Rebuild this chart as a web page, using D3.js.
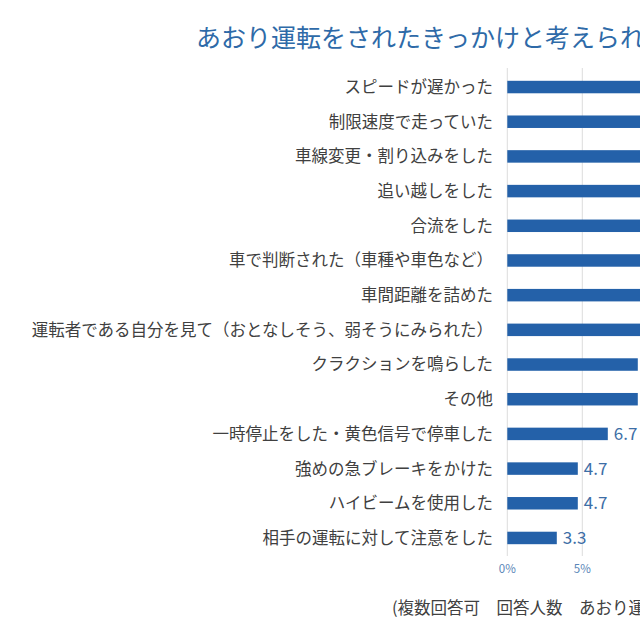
<!DOCTYPE html>
<html><head><meta charset="utf-8">
<script src="https://cdn.jsdelivr.net/npm/d3@7"></script>
<style>
html,body{margin:0;padding:0;background:#fff;overflow:hidden;}
svg{display:block;font-family:"Noto Sans CJK JP","Noto Sans",sans-serif;}
</style></head>
<body>
<svg id="chart" width="640" height="640"></svg>
<script>
const titleText = "あおり運転をされたきっかけと考えられること";
const footnote = "(複数回答可　回答人数　あおり運転をされたことがある人)";
const categories = [
  "スピードが遅かった",
  "制限速度で走っていた",
  "車線変更・割り込みをした",
  "追い越しをした",
  "合流をした",
  "車で判断された（車種や車色など）",
  "車間距離を詰めた",
  "運転者である自分を見て（おとなしそう、弱そうにみられた）",
  "クラクションを鳴らした",
  "その他",
  "一時停止をした・黄色信号で停車した",
  "強めの急ブレーキをかけた",
  "ハイビームを使用した",
  "相手の運転に対して注意をした"
];
const values = [40.7, 30.0, 26.0, 20.7, 14.0, 12.7, 11.3, 10.7, 8.7, 8.7, 6.7, 4.7, 4.7, 3.3];
const tickValues = [0, 5, 10, 15, 20, 25, 30, 35, 40, 45];

const svg = d3.select("#chart");
const W = 640;
const x = d3.scaleLinear().domain([0, 45]).range([507.3, 507.3 + 45 * 15]);
const y = d3.scaleBand().domain(categories).range([69.7, 555.3]).paddingInner(0.64).paddingOuter(0.32);

// gridlines
svg.append("g").selectAll("line").data(tickValues.filter(d => x(d) < W)).join("line")
  .attr("x1", d => x(d)).attr("x2", d => x(d))
  .attr("y1", 68).attr("y2", 556)
  .attr("stroke", "#dcdcdc").attr("stroke-width", 1);

// x axis tick labels (only those inside the visible frame)
svg.append("g").selectAll("text").data(tickValues.filter(d => x(d) + 12 < W)).join("text")
  .attr("x", d => x(d)).attr("y", 573)
  .attr("text-anchor", "middle")
  .attr("font-size", 11.5).attr("fill", "#5a86b8")
  .text(d => d + "%");

// bars
svg.append("g").selectAll("rect").data(values).join("rect")
  .attr("x", x(0))
  .attr("y", (d, i) => y(categories[i]))
  .attr("width", d => x(d) - x(0))
  .attr("height", y.bandwidth())
  .attr("fill", "#2461a9");

// value labels
svg.append("g").selectAll("text").data(values).join("text")
  .attr("x", d => x(d) + 6)
  .attr("y", (d, i) => y(categories[i]) + y.bandwidth() / 2)
  .attr("dy", "0.36em")
  .attr("font-size", 17).attr("fill", "#3d6ea6")
  .text(d => d.toFixed(1));

// category labels
svg.append("g").selectAll("text").data(categories).join("text")
  .attr("x", 493)
  .attr("y", d => y(d) + y.bandwidth() / 2)
  .attr("dy", "0.36em")
  .attr("text-anchor", "end")
  .attr("font-size", 16.5).attr("fill", "#404040")
  .text(d => d);

// title
svg.append("text").attr("x", 196).attr("y", 47)
  .attr("font-size", 25).attr("fill", "#2e6aa8")
  .text(titleText);

// footnote
svg.append("text").attr("x", 392).attr("y", 614)
  .attr("font-size", 16.5).attr("fill", "#404040")
  .text(footnote);
</script>
</body></html>
